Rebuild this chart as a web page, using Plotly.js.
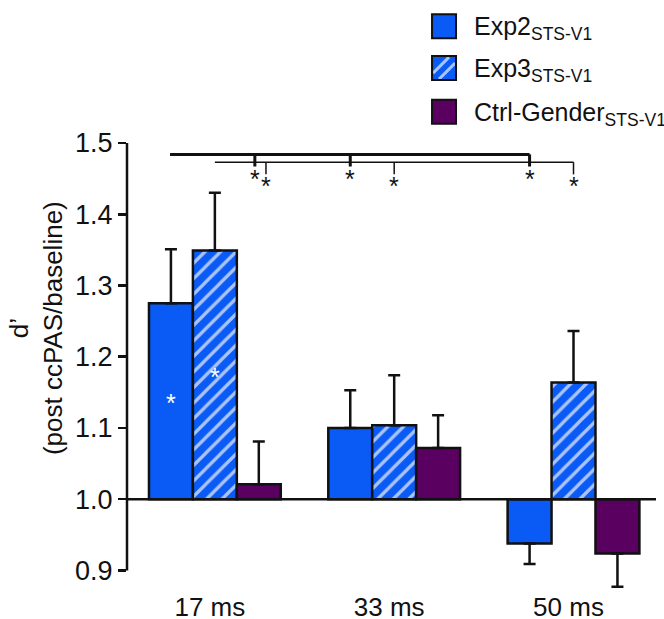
<!DOCTYPE html>
<html>
<head>
<meta charset="utf-8">
<script src="https://cdn.plot.ly/plotly-3.0.1.min.js"></script>
<style>html,body{margin:0;padding:0;background:#fff;}#chart{width:664px;height:619px;}</style>
</head>
<body>
<div id="chart"></div>
<script>
// ---- data ----
const categories = ['17 ms', '33 ms', '50 ms'];
const exp2Values = [1.275, 1.100, 0.938];
const exp2Errors = [0.076, 0.053, 0.029];
const exp3Values = [1.349, 1.104, 1.164];
const exp3Errors = [0.081, 0.070, 0.072];
const ctrlValues = [1.021, 1.072, 0.924];
const ctrlErrors = [0.060, 0.046, 0.047];
const seriesNames = ['Exp2<sub>STS-V1</sub>', 'Exp3<sub>STS-V1</sub>', 'Ctrl-Gender<sub>STS-V1</sub>'];
const yTickValues = [0.9, 1.0, 1.1, 1.2, 1.3, 1.4, 1.5];
const baseline = 1.0;

// ---- styling ----
const BLUE = '#0A5AF5';
const STRIPE = '#A9C4FA';
const PURPLE = '#5A0060';
const INK = '#111111';
const FONT = 'Liberation Sans, Arial, sans-serif';
const BAR_W = 0.245;

const xIdx = categories.map((c, i) => i);

function barTrace(name, values, errors, color, pattern, offsetIdx) {
  return {
    type: 'bar',
    name: name,
    x: xIdx,
    y: values.map(v => v - baseline),
    base: values.map(() => baseline),
    width: BAR_W,
    offset: (offsetIdx - 0.5) * BAR_W,
    marker: Object.assign({color: color, line: {color: INK, width: 2.5}}, pattern ? {pattern: pattern} : {}),
    error_y: {
      type: 'data', symmetric: false,
      array: values.map((v, i) => v >= baseline ? errors[i] : 0),
      arrayminus: values.map((v, i) => v < baseline ? errors[i] : 0),
      color: INK, thickness: 2.5, width: 6
    },
    hoverinfo: 'x+name'
  };
}

const traces = [
  barTrace(seriesNames[0], exp2Values, exp2Errors, BLUE, null, -1),
  barTrace(seriesNames[1], exp3Values, exp3Errors, BLUE,
    {shape: '/', bgcolor: BLUE, fgcolor: STRIPE, size: 11, solidity: 0.3, fillmode: 'replace'}, 0),
  barTrace(seriesNames[2], ctrlValues, ctrlErrors, PURPLE, null, 1)
];

// ---- decorations: axis lines, significance brackets, legend ----
const shapes = [];
const annotations = [];

// y axis line from 0.9 to 1.5
shapes.push({type: 'line', xref: 'paper', yref: 'y', x0: 0, x1: 0, y0: yTickValues[0], y1: yTickValues[yTickValues.length - 1], line: {color: INK, width: 2.5}});
// baseline at 1.0
shapes.push({type: 'line', xref: 'paper', yref: 'y', x0: 0, x1: 1, y0: baseline, y1: baseline, line: {color: INK, width: 2.5}, layer: 'above'});

// significance brackets (x in category units, y in data units)
const thickBracket = {x0: -0.25, y: 1.484, ticks: [0.223, 0.755, 1.755], tickEnd: 1.467, starY: 1.449, w: 3};
const thinBracket = {x0: 0.0, y: 1.473, ticks: [0.285, 1.0, 2.0], tickEnd: 1.456, starY: 1.439, w: 1.5};
[thickBracket, thinBracket].forEach(b => {
  const xEnd = b.ticks[b.ticks.length - 1];
  shapes.push({type: 'line', xref: 'x', yref: 'y', x0: b.x0, x1: xEnd, y0: b.y, y1: b.y, line: {color: INK, width: b.w}});
  b.ticks.forEach(t => {
    shapes.push({type: 'line', xref: 'x', yref: 'y', x0: t, x1: t, y0: b.y, y1: b.tickEnd, line: {color: INK, width: b.w}});
    annotations.push({xref: 'x', yref: 'y', x: t, y: b.starY, text: '*', showarrow: false, font: {family: FONT, size: 25, color: INK}});
  });
});

// white asterisks inside 17 ms bars
annotations.push({xref: 'x', yref: 'y', x: -BAR_W, y: 1.135, text: '*', showarrow: false, font: {family: FONT, size: 25, color: '#ffffff'}});
annotations.push({xref: 'x', yref: 'y', x: 0, y: 1.171, text: '*', showarrow: false, font: {family: FONT, size: 25, color: '#ffffff'}});

// y axis title
annotations.push({xref: 'paper', yref: 'paper', x: -0.172, y: 0.585, xanchor: 'center', yanchor: 'middle',
  text: 'd’<br>(post ccPAS/baseline)', textangle: -90,
  showarrow: false, font: {family: FONT, size: 26, color: INK}, align: 'center'});

// custom legend
const legendX = 0.5993, legendTextX = 0.6522;
const legendY = [1.262, 1.168, 1.070];
const legendColors = [BLUE, BLUE, PURPLE];
legendY.forEach((ly, i) => {
  const base = {xref: 'paper', yref: 'paper', xsizemode: 'pixel', ysizemode: 'pixel', xanchor: legendX, yanchor: ly};
  shapes.push(Object.assign({type: 'rect', x0: -12, x1: 12, y0: -12, y1: 12, fillcolor: legendColors[i], line: {width: 0}}, base));
  if (i === 1) {
    shapes.push(Object.assign({type: 'line', x0: -11, y0: -5, x1: 5, y1: 11, line: {color: STRIPE, width: 3}}, base));
    shapes.push(Object.assign({type: 'line', x0: -5, y0: -11, x1: 11, y1: 5, line: {color: STRIPE, width: 3}}, base));
  }
  shapes.push(Object.assign({type: 'rect', x0: -12, x1: 12, y0: -12, y1: 12, fillcolor: 'rgba(0,0,0,0)', line: {color: INK, width: 2}}, base));
  annotations.push({xref: 'paper', yref: 'paper', x: legendTextX, y: ly, xanchor: 'left', yanchor: 'middle', yshift: -2,
    text: seriesNames[i], showarrow: false, font: {family: FONT, size: 25, color: INK}});
});

const layout = {
  width: 664, height: 619,
  margin: {l: 127, r: 8, t: 143, b: 30, pad: 0},
  paper_bgcolor: '#ffffff', plot_bgcolor: '#ffffff',
  showlegend: false,
  barmode: 'group',
  font: {family: FONT, size: 25, color: INK},
  xaxis: {
    range: [-0.49, 2.46], tickvals: xIdx, ticktext: categories,
    showline: false, showgrid: false, zeroline: false, ticks: '',
    tickfont: {family: FONT, size: 26, color: INK}, ticklabelshift: -5, ticklabelstandoff: 0
  },
  yaxis: {
    range: [0.874, 1.5], tickvals: yTickValues, tickformat: '.1f',
    showline: false, showgrid: false, zeroline: false,
    ticks: 'outside', ticklen: 8, tickwidth: 2.5, tickcolor: INK,
    tickfont: {family: FONT, size: 27, color: INK}
  },
  shapes: shapes,
  annotations: annotations
};

Plotly.newPlot('chart', traces, layout, {displayModeBar: false, staticPlot: true});
</script>
</body>
</html>
